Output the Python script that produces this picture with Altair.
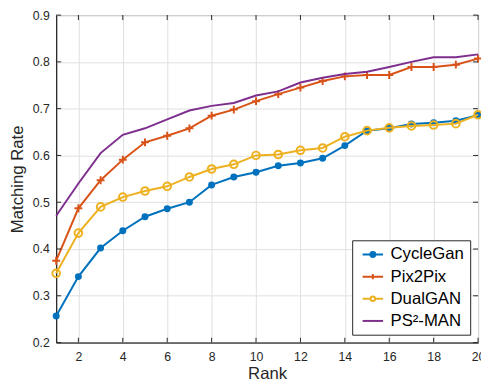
import altair as alt
import pandas as pd

ranks = list(range(1, 21))
cyclegan = [0.257, 0.341, 0.402, 0.439, 0.469, 0.486, 0.500, 0.537, 0.554, 0.564,
            0.578, 0.584, 0.594, 0.621, 0.653, 0.658, 0.667, 0.670, 0.674, 0.686]
pix2pix = [0.375, 0.487, 0.547, 0.591, 0.628, 0.642, 0.658, 0.685, 0.698, 0.716,
           0.731, 0.745, 0.759, 0.769, 0.772, 0.772, 0.789, 0.789, 0.794, 0.807]
dualgan = [0.348, 0.434, 0.490, 0.511, 0.524, 0.534, 0.554, 0.571, 0.581, 0.600,
           0.602, 0.611, 0.616, 0.640, 0.653, 0.659, 0.663, 0.665, 0.668, 0.687]
ps2man = [0.471, 0.540, 0.605, 0.644, 0.658, 0.677, 0.696, 0.706, 0.712, 0.728,
          0.737, 0.756, 0.766, 0.774, 0.779, 0.789, 0.800, 0.810, 0.810, 0.816]

series_names = ["CycleGan", "Pix2Pix", "DualGAN", "PS²-MAN"]
series_colors = ["#0072BD", "#D95319", "#EDB120", "#7E2F8E"]
x_ticks = [2, 4, 6, 8, 10, 12, 14, 16, 18, 20]
y_ticks = [0.2, 0.3, 0.4, 0.5, 0.6, 0.7, 0.8, 0.9]

LINE = "M-2.08 0 L2.08 0 "
legend_shapes = [
    LINE + "M0.5 0 A0.5 0.5 0 1 1 -0.5 0 A0.5 0.5 0 1 1 0.5 0 "
           "M0.23 0 A0.23 0.23 0 1 1 -0.23 0 A0.23 0.23 0 1 1 0.23 0",
    LINE + "M0 -0.54 L0 0.54",
    "M-2.08 0 L-0.46 0 M0.46 0 L2.08 0 M0.46 0 A0.46 0.46 0 1 1 -0.46 0 A0.46 0.46 0 1 1 0.46 0",
    LINE,
]

W, H = 429, 333
DARK = "#262626"
FONT = "Liberation Sans"

rows = []
for name, vals in zip(series_names, [cyclegan, pix2pix, dualgan, ps2man]):
    for r, v in zip(ranks, vals):
        rows.append({"rank": r, "value": v, "model": name})
df = pd.DataFrame(rows)

xscale = alt.Scale(domain=[1, 20], nice=False, zero=False)
yscale = alt.Scale(domain=[0.2, 0.9], nice=False, zero=False)

x_axis = alt.Axis(values=x_ticks, title="Rank", grid=True, ticks=False,
                  labelFlush=False, labelOverlap=False, labelPadding=8,
                  titlePadding=3, format="d")
y_axis = alt.Axis(values=y_ticks, title="Matching Rate", grid=True, ticks=False,
                  labelFlush=False, labelOverlap=False, labelPadding=7,
                  titlePadding=6, format=".1f")


def X(field):
    return alt.X(field, scale=xscale, axis=x_axis)


def Y(field):
    return alt.Y(field, scale=yscale, axis=y_axis)


base = alt.Chart(df)
layers = []

for i, name in enumerate(series_names):
    sub = base.transform_filter(alt.datum.model == name)
    line = sub.mark_line(color=series_colors[i], strokeWidth=2).encode(
        x=X("rank:Q"), y=Y("value:Q"), order="rank:Q",
    )
    layers.append(line)
    if name == "CycleGan":
        pts = sub.mark_point(shape="circle", filled=True, size=50, opacity=1,
                             color=series_colors[i])
    elif name == "Pix2Pix":
        pts = sub.mark_point(shape="M-1 0 L1 0 M0 -1 L0 1", filled=False, size=64,
                             strokeWidth=2, opacity=1, color=series_colors[i])
    elif name == "DualGAN":
        pts = sub.mark_point(shape="circle", filled=False, size=60, strokeWidth=2,
                             opacity=1, color=series_colors[i])
    else:
        pts = None
    if pts is not None:
        layers.append(pts.encode(x=X("rank:Q"), y=Y("value:Q")))

# inward ticks
xt = pd.DataFrame({"rank": x_ticks})
yt = pd.DataFrame({"value": y_ticks})
for ypos in [H - 2.5, 2.5]:
    layers.append(alt.Chart(xt).mark_tick(color=DARK, thickness=1, size=5, opacity=1).encode(
        x=X("rank:Q"), y=alt.value(ypos)))
for xpos in [2.5, W - 2.5]:
    layers.append(alt.Chart(yt).mark_tick(color=DARK, thickness=1, size=5, opacity=1).encode(
        y=Y("value:Q"), x=alt.value(xpos)))

# legend carrier (draws nothing)
leg = alt.Legend(title=None, orient="bottom-right", offset=8, padding=6,
                 strokeColor=DARK, fillColor="white", cornerRadius=0,
                 labelFont=FONT, labelFontSize=17, labelColor="#000000",
                 symbolSize=100, symbolStrokeWidth=2, symbolOffset=6.5,
                 labelOffset=9.5, rowPadding=4.5, labelLimit=200)
legend_layer = base.transform_filter("false").mark_point(
    filled=False, size=100, strokeWidth=2, opacity=1).encode(
    x=X("rank:Q"), y=Y("value:Q"),
    color=alt.Color("model:N", scale=alt.Scale(domain=series_names, range=series_colors), legend=leg),
    shape=alt.Shape("model:N", scale=alt.Scale(domain=series_names, range=legend_shapes), legend=leg),
)
layers.append(legend_layer)

chart = alt.layer(*layers).properties(
    width=W, height=H,
    autosize=alt.AutoSizeParams(type="none"),
    padding={"left": 49, "top": 4, "right": 3, "bottom": 44},
).configure_view(
    stroke=DARK, strokeWidth=1
).configure_axis(
    domainColor=DARK, domainWidth=1, gridColor="#dfdfdf", gridWidth=1,
    labelFont=FONT, labelFontSize=12.5, labelColor=DARK,
    titleFont=FONT, titleFontSize=17, titleColor=DARK, titleFontWeight="normal",
)

chart.save("out.html", embed_options={"renderer": "svg", "actions": False})
